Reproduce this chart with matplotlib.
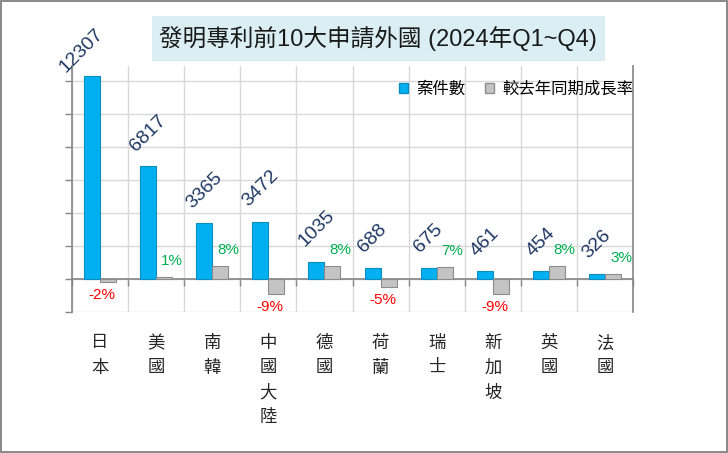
import numpy as np
import matplotlib
matplotlib.use('Agg')
import matplotlib.pyplot as plt
import matplotlib.transforms as mtransforms
from matplotlib.patches import Patch, Rectangle

plt.rcParams['font.family'] = ['Liberation Sans', 'Noto Sans CJK TC', 'DejaVu Sans']

# data
countries = ['日本', '美國', '南韓', '中國大陸', '德國', '荷蘭', '瑞士', '新加坡', '英國', '法國']
cases = [12307, 6817, 3365, 3472, 1035, 688, 675, 461, 454, 326]
growth = [-0.02, 0.01, 0.08, -0.09, 0.08, -0.05, 0.07, -0.09, 0.08, 0.03]

title = '發明專利前10大申請外國 (2024年Q1~Q4)'
series_names = ['案件數', '較去年同期成長率']

blue, blue_edge = '#00B0F0', '#0B8DC0'
grey, grey_edge = '#C4C4C4', '#8C8C8C'
axis_col = '#868686'
grid_col = '#D9D9D9'

W, H = 728, 453
fig = plt.figure(figsize=(W / 100, H / 100), dpi=100)
fig.patch.set_edgecolor('#8C8C8C')
fig.patch.set_linewidth(1.5)

# plot area
ax = fig.add_axes([72 / W, 1 - 312 / H, 561 / W, 246 / H])
x = np.arange(len(countries))
w = 16 / 56

ax.set_xlim(-0.5, len(countries) - 0.5)
ax.set_ylim(-2000, 12900)
ax.set_yticks(range(-2000, 12001, 2000))
ax.set_xticks(np.arange(-0.5, len(countries), 1))
ax.grid(True, color=grid_col, lw=1)
ax.set_axisbelow(True)
ax.tick_params(labelleft=False, labelbottom=False, color=axis_col,
               length=5, width=1)
ax.spines['bottom'].set_position(('data', 0))
ax.spines['top'].set_visible(False)
for s in ['left', 'bottom', 'right']:
    ax.spines[s].set_color(axis_col)
    ax.spines[s].set_linewidth(1.2)

ax.bar(x - w / 2, cases, w, color=blue, edgecolor=blue_edge, lw=0.8, zorder=3)

ax2 = ax.twinx()
ax2.set_ylim(-0.2, 1.29)
ax2.set_yticks([])
for s in ax2.spines.values():
    s.set_visible(False)
ax2.bar(x + w / 2, growth, w, color=grey, edgecolor=grey_edge, lw=0.8, zorder=3)

# count labels
for i, (xi, v) in enumerate(zip(x, cases)):
    dx, dy = 0, 12
    if i == 0:
        dx, dy = -10, 0
    ax.annotate(f'{v}', (xi - w / 2, v), xytext=(dx, dy), textcoords='offset pixels',
                rotation=45, ha='center', va='bottom', fontsize=14,
                color='#1F3864', annotation_clip=False)

# growth labels
for xi, g in zip(x, growth):
    if g >= 0:
        ax2.annotate(f'{g:.0%}', (xi + w / 2, g), xytext=(8, 16), textcoords='offset pixels',
                     ha='center', va='center', fontsize=11, color='#00B050')
    else:
        ax2.annotate(f'{g:.0%}', (xi + w / 2, g), xytext=(-6, -6), textcoords='offset pixels',
                     ha='center', va='top', fontsize=11, color='#FF0000')

# vertical category labels
trans = mtransforms.blended_transform_factory(ax.transData, ax.transAxes)
for xi, name in zip(x, countries):
    for j, ch in enumerate(name):
        ax.annotate(ch, (xi, 0), xycoords=trans, xytext=(0, -31 - j * 24.7),
                    textcoords='offset pixels', ha='center', va='center',
                    fontsize=12.5, color='#262626', annotation_clip=False)

# title box
fig.add_artist(Rectangle((152 / W, 1 - 61 / H), 453 / W, 45 / H, transform=fig.transFigure,
                         facecolor='#DAEEF3', edgecolor='none'))
fig.text(378 / W, 1 - 39 / H, title, ha='center', va='center', fontsize=17, color='#1A1A1A')

handles = [Patch(facecolor=blue, edgecolor=blue_edge), Patch(facecolor=grey, edgecolor=grey_edge)]
fig.legend(handles, series_names, loc='center right', bbox_to_anchor=(633 / W, 1 - 89 / H),
           ncol=2, frameon=False, fontsize=11.8, handlelength=0.55, handleheight=0.55,
           handletextpad=0.5, columnspacing=1.2, borderpad=0, borderaxespad=0)

fig.savefig('out.png', dpi=100, edgecolor=fig.get_edgecolor())
